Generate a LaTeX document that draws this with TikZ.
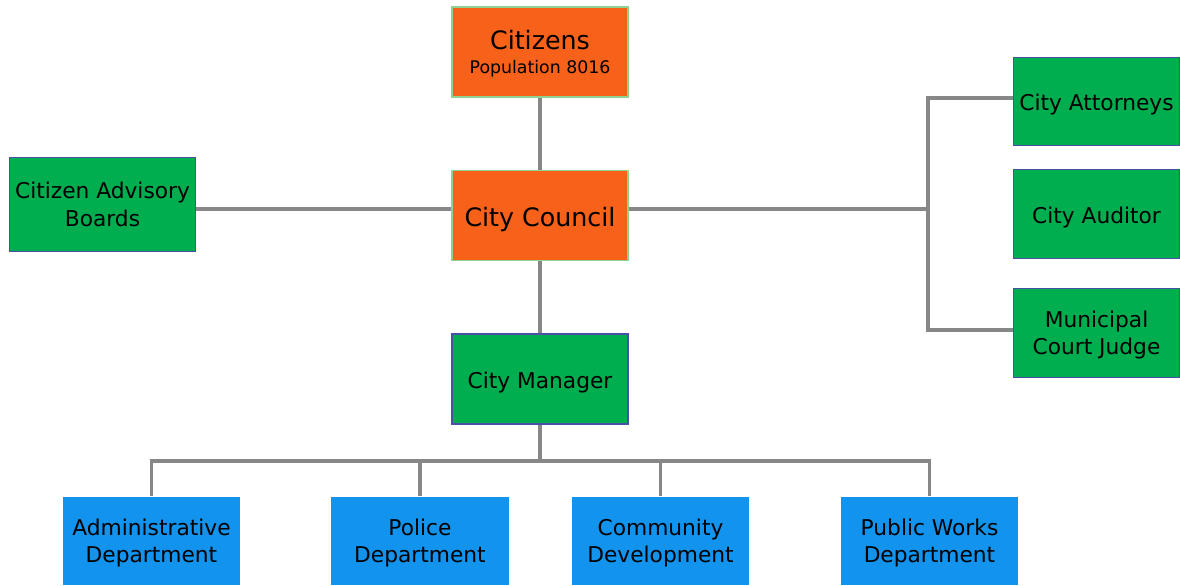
\documentclass[tikz,border=0pt]{standalone}
\usepackage{fontspec}
\setmainfont{DejaVu Sans}
\usepackage{tikz}
\definecolor{CouncilOrange}{HTML}{F86119}
\definecolor{BoardGreen}{HTML}{00AE4F}
\definecolor{DeptBlue}{HTML}{1293EE}
\definecolor{EdgeGreen}{HTML}{8FD18F}
\definecolor{EdgeBlue}{HTML}{4A50A8}
\definecolor{WireGray}{HTML}{878787}

\begin{document}
\begin{tikzpicture}[x=0.75pt, y=-0.75pt, line width=2.5pt, color=WireGray,
      every node/.append style={inner sep=0pt, align=center, text=black,
        font=\fontsize{16.3}{20.5}\selectfont, line width=0.8pt},
      lift/.style={execute at begin node={\rule{0pt}{#1}}},
      lift/.default=17pt,
      drop/.style={text depth=#1},
      top/.style={fill=CouncilOrange, draw=EdgeGreen, minimum width=132pt, minimum height=67.5pt},
      board/.style={fill=BoardGreen, draw=EdgeBlue, minimum width=132pt, minimum height=67.5pt},
      side/.style={board, minimum width=125pt, minimum height=66.5pt},
      dept/.style={fill=DeptBlue, draw=none, minimum width=133pt, minimum height=66pt, drop=-13pt}]
	  \useasboundingbox (0,0) rectangle (1180,585);
	  \node (citizens) [top, drop=-8.5pt] at (540,52) {{\fontsize{19}{22}\selectfont Citizens}\\[-3pt]{\fontsize{13}{15}\selectfont Population 8016}};
	  \node (city_council) [top, lift=20.5pt, minimum height=68pt] at (540,215.5) {\fontsize{19}{22}\selectfont City Council};
	  \node (city_manager) [board, lift] at (540,379) {City Manager};
	  \node (advisory) [board, minimum width=140pt, minimum height=71pt] at (102.5,204.5) {Citizen Advisory\\Boards};
	  \node (attorneys) [side, lift] at (1096.5,101.5) {City Attorneys};
	  \node (auditor) [side, lift] at (1096.5,214) {City Auditor};
	  \node (judge) [side, drop=-8.5pt] at (1096.5,333) {Municipal\\Court Judge};
	  \node (admin_dept) [dept] at (151.5,541) {Administrative\\Department};
	  \node (police_dept) [dept] at (420,541) {Police\\Department};
	  \node (community_dept) [dept] at (660.5,541) {Community\\Development};
	  \node (works_dept) [dept] at (929.5,541) {Public Works\\Department};
	  \coordinate (hub_left) at (540,209);
	  \coordinate (hub_right) at (928,209);
	  \coordinate (right_top) at (928,98);
	  \coordinate (right_bot) at (928,330);
	  \coordinate (hub_low) at (540,461);
	  % council links
	  \draw (citizens) -- (city_council);
	  \draw (city_council) -- (city_manager);
	  \draw (advisory.east |- hub_left) -- (city_council.west |- hub_left);
	  \draw (city_council.east |- hub_right) -- (hub_right);
	  \draw (attorneys.west |- right_top) -- (right_top) -- (right_bot) -- (judge.west |- right_bot);
	  % departments
	  \draw (city_manager) -- (hub_low);
	  \draw (admin_dept.north) -- (admin_dept.north |- hub_low) -- (works_dept.north |- hub_low) -- (works_dept.north);
	  \draw (police_dept.north) -- (police_dept.north |- hub_low);
	  \draw (community_dept.north) -- (community_dept.north |- hub_low);
	\end{tikzpicture}
\end{document}
